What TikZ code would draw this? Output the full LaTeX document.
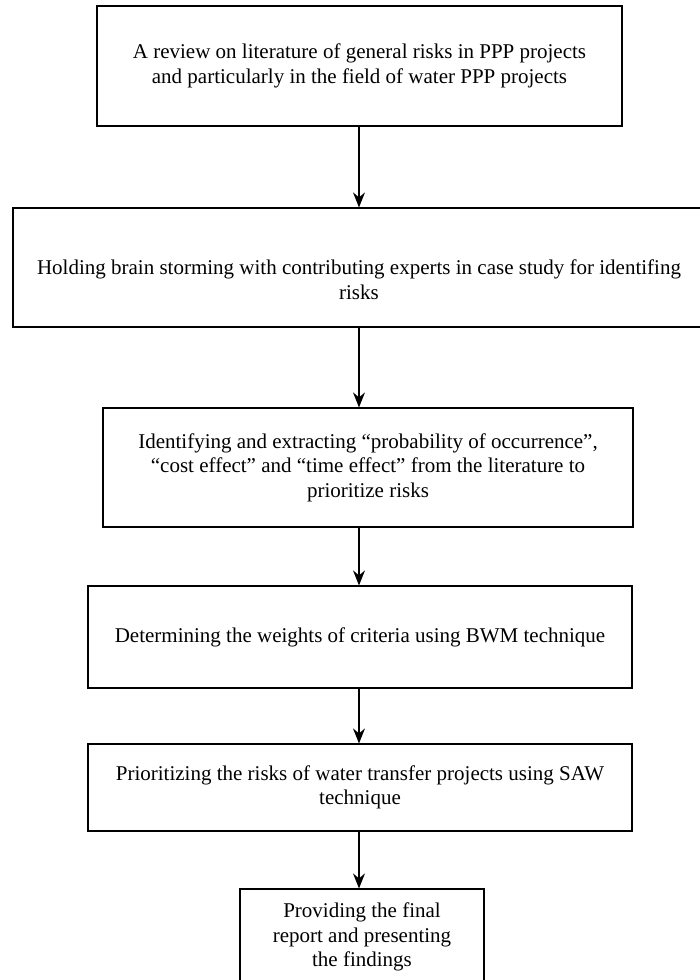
\documentclass[tikz,border=0pt]{standalone}
\usepackage{fontspec}
\setmainfont{Liberation Serif}
\usetikzlibrary{arrows.meta}
\begin{document}
\begin{tikzpicture}[x=1pt,y=-1pt,
  stepbox/.style={draw=black, line width=1.2pt, rectangle, inner sep=0pt, align=center,
    font=\fontsize{21}{24.5}\selectfont},
  arr/.style={line width=1.5pt, -{Stealth[length=15pt,width=12pt,inset=5pt]}}]
\useasboundingbox (0,0) rectangle (699,980);
\fill[white] (0,0) rectangle (699,980);
\node[stepbox, minimum width=525pt, minimum height=120pt] (b1) at (359.5,66)
  {A review on literature of general risks in PPP projects\\and particularly in the field of water PPP projects};
\node[stepbox, minimum width=692pt, minimum height=119pt] (b2) at (359,267.5)
  {\mbox{}\\[15pt]Holding brain storming with contributing experts in case study for identifing\\risks};
\node[stepbox, minimum width=530pt, minimum height=119pt] (b3) at (368,467.5)
  {Identifying and extracting “probability of occurrence”,\\“cost effect” and “time effect” from the literature to\\prioritize risks};
\node[stepbox, minimum width=544pt, minimum height=102pt] (b4) at (360,637)
  {Determining the weights of criteria using BWM technique};
\node[stepbox, minimum width=544pt, minimum height=87pt] (b5) at (360,787.5)
  {Prioritizing the risks of water transfer projects using SAW\\technique};
\node[stepbox, minimum width=244pt, minimum height=96pt] (b6) at (362,937)
  {Providing the final\\report and presenting\\the findings};
\coordinate (ax) at (359,0);
\draw[arr] (b1.south -| ax) -- (b2.north -| ax);
\draw[arr] (b2.south -| ax) -- (b3.north -| ax);
\draw[arr] (b3.south -| ax) -- (b4.north -| ax);
\draw[arr] (b4.south -| ax) -- (b5.north -| ax);
\draw[arr] (b5.south -| ax) -- (b6.north -| ax);
\end{tikzpicture}
\end{document}
